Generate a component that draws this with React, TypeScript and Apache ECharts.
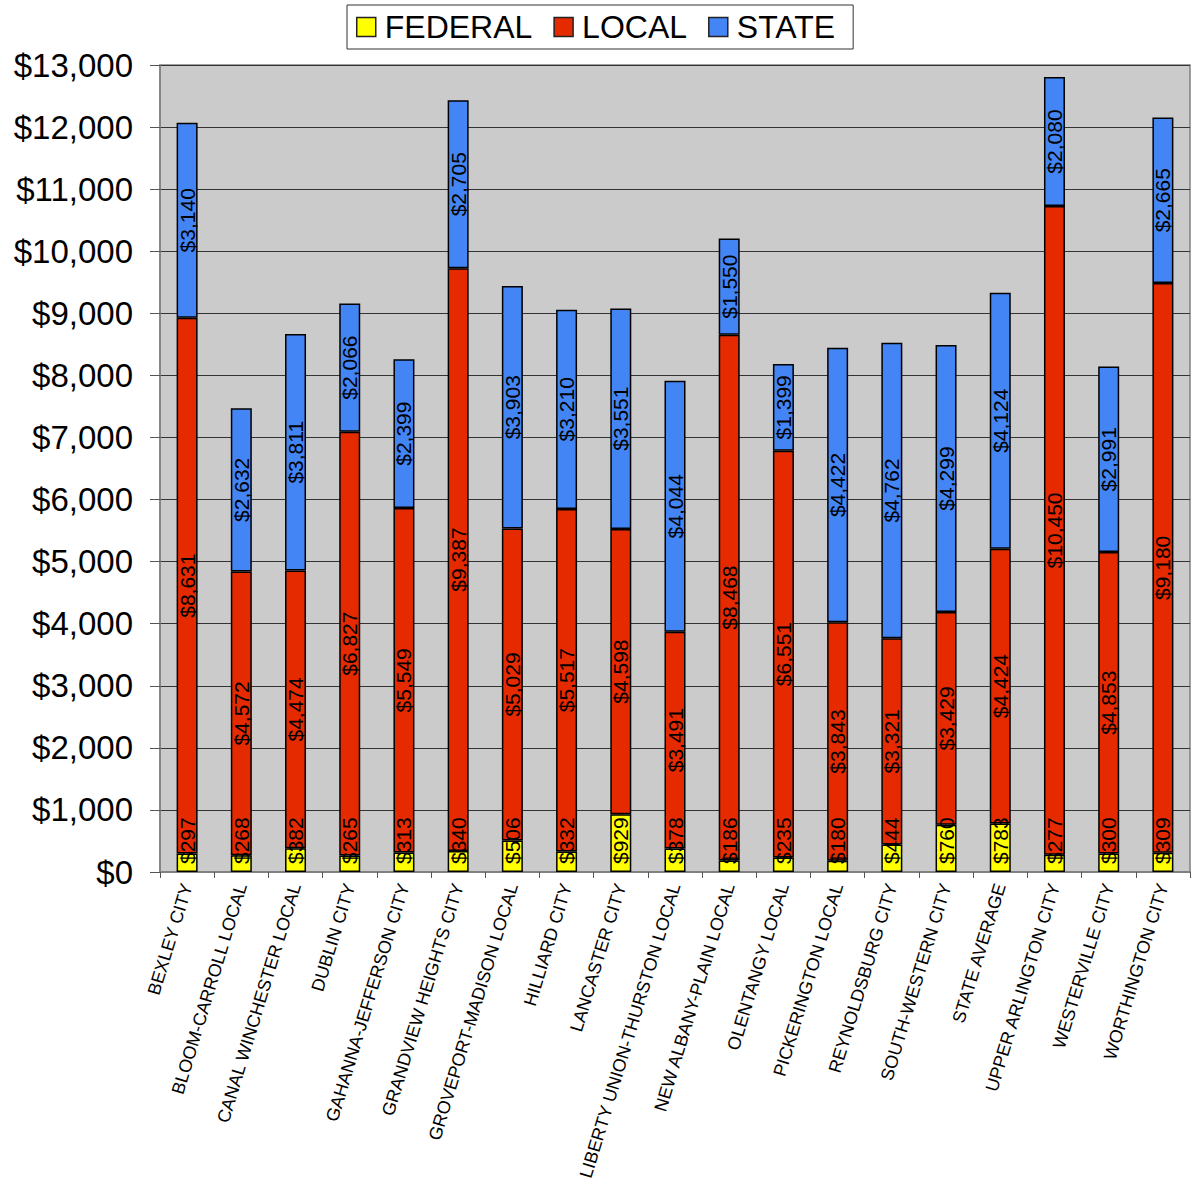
import React, { useEffect, useRef } from "react";
import * as echarts from "echarts";

const categories = [
  "BEXLEY CITY",
  "BLOOM-CARROLL LOCAL",
  "CANAL WINCHESTER LOCAL",
  "DUBLIN CITY",
  "GAHANNA-JEFFERSON CITY",
  "GRANDVIEW HEIGHTS CITY",
  "GROVEPORT-MADISON LOCAL",
  "HILLIARD CITY",
  "LANCASTER CITY",
  "LIBERTY UNION-THURSTON LOCAL",
  "NEW ALBANY-PLAIN LOCAL",
  "OLENTANGY LOCAL",
  "PICKERINGTON LOCAL",
  "REYNOLDSBURG CITY",
  "SOUTH-WESTERN CITY",
  "STATE AVERAGE",
  "UPPER ARLINGTON CITY",
  "WESTERVILLE CITY",
  "WORTHINGTON CITY",
];

const federal = [297, 268, 382, 265, 313, 340, 506, 332, 929, 378, 186, 235, 180, 444, 760, 783, 277, 300, 309];
const local = [8631, 4572, 4474, 6827, 5549, 9387, 5029, 5517, 4598, 3491, 8468, 6551, 3843, 3321, 3429, 4424, 10450, 4853, 9180];
const state = [3140, 2632, 3811, 2066, 2399, 2705, 3903, 3210, 3551, 4044, 1550, 1399, 4422, 4762, 4299, 4124, 2080, 2991, 2665];

const FONT = "'Liberation Sans', Arial, sans-serif";
const fmt = (v: number) => "$" + v.toLocaleString("en-US");

export default function App() {
  const ref = useRef<HTMLDivElement>(null);
  useEffect(() => {
    if (!ref.current) return;
    const chart = echarts.init(ref.current, null, { renderer: "svg" });
    const barLabel = {
      show: true,
      position: "inside",
      rotate: 90,
      color: "#000",
      fontSize: 21,
      fontFamily: FONT,
      formatter: (p: any) => fmt(p.value),
    };
    const itemStyle = (c: string) => ({ color: c, borderColor: "#000", borderWidth: 1.5 });
    chart.setOption({
      animation: false,
      textStyle: { fontFamily: FONT },
      legend: {
        top: 5,
        left: 347,
        data: ["FEDERAL", "LOCAL", "STATE"],
        icon: "rect",
        itemWidth: 19,
        itemHeight: 19,
        itemGap: 21,
        borderColor: "#333",
        borderWidth: 1,
        padding: [6, 18, 6, 9],
        backgroundColor: "#fff",
        itemStyle: { borderColor: "#222", borderWidth: 1.5 },
        textStyle: { fontSize: 32, color: "#000", fontFamily: FONT, padding: [0, 0, 0, 4] },
      },
      grid: {
        left: 160,
        right: 3,
        top: 65,
        bottom: 312,
        show: true,
        backgroundColor: "#cbcbcb",
        borderColor: "#808080",
        borderWidth: 1.5,
      },
      xAxis: {
        type: "category",
        data: categories,
        axisLine: { show: true, lineStyle: { color: "#808080", width: 2 } },
        axisTick: { show: true, length: 6, lineStyle: { color: "#555" } },
        axisLabel: {
          rotate: 73,
          fontSize: 18,
          color: "#000",
          fontFamily: FONT,
          margin: 12,
          interval: 0,
        },
      },
      yAxis: {
        type: "value",
        min: 0,
        max: 13000,
        interval: 1000,
        axisLine: { show: true, lineStyle: { color: "#808080", width: 1.5 } },
        axisTick: { show: true, length: 10, lineStyle: { color: "#555" } },
        axisLabel: {
          fontSize: 33,
          color: "#000",
          fontFamily: FONT,
          margin: 27,
          formatter: (v: number) => fmt(v),
        },
        splitLine: { show: true, lineStyle: { color: "#333", width: 1 } },
      },
      series: [
        {
          name: "FEDERAL",
          type: "bar",
          stack: "total",
          barWidth: 21,
          data: federal,
          itemStyle: itemStyle("#ffff00"),
          label: { ...barLabel, position: "insideBottom", align: "left", verticalAlign: "middle", distance: 8 },
        },
        {
          name: "LOCAL",
          type: "bar",
          stack: "total",
          barWidth: 21,
          data: local,
          itemStyle: itemStyle("#e62a00"),
          label: barLabel,
        },
        {
          name: "STATE",
          type: "bar",
          stack: "total",
          barWidth: 21,
          data: state,
          itemStyle: itemStyle("#4485f5"),
          label: barLabel,
        },
      ],
    });
    return () => chart.dispose();
  }, []);
  return (
    <div
      ref={ref}
      style={{ position: "fixed", left: 0, top: 0, width: 1193, height: 1184, background: "#fff" }}
    />
  );
}
